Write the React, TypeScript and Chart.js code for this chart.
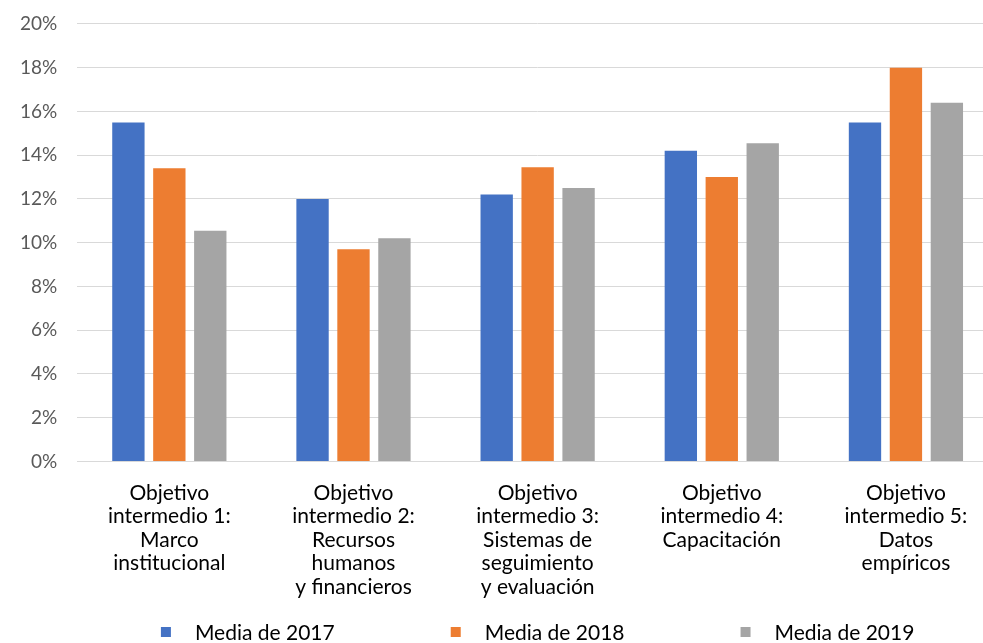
import React, { useEffect, useRef } from "react";
import { Chart, registerables } from "chart.js";

Chart.register(...registerables);

const categories: string[][] = [
  ["Objetivo", "intermedio 1:", "Marco", "institucional"],
  ["Objetivo", "intermedio 2:", "Recursos", "humanos", "y financieros"],
  ["Objetivo", "intermedio 3:", "Sistemas de", "seguimiento", "y evaluación"],
  ["Objetivo", "intermedio 4:", "Capacitación"],
  ["Objetivo", "intermedio 5:", "Datos", "empíricos"],
];

const seriesNames = ["Media de 2017", "Media de 2018", "Media de 2019"];
const media2017 = [15.5, 12.0, 12.2, 14.2, 15.5];
const media2018 = [13.4, 9.7, 13.45, 13.0, 18.0];
const media2019 = [10.55, 10.2, 12.5, 14.55, 16.4];
const colors = ["#4472C4", "#ED7D31", "#A5A5A5"];

const FONT = "Lato, 'Open Sans', sans-serif";

const legendPlugin = {
  id: "customLegend",
  afterDraw(chart: any) {
    const ctx = chart.ctx;
    const area = chart.chartArea;
    ctx.save();
    ctx.font = `21px ${FONT}`;
    const box = 10;
    const gapText = 24;
    const gapItem = 116;
    const items = chart.data.datasets.map((d: any) => ({
      label: d.label,
      color: d.backgroundColor,
      w: box + gapText + ctx.measureText(d.label).width,
    }));
    const total =
      items.reduce((s: number, it: any) => s + it.w, 0) + gapItem * (items.length - 1);
    let x = (area.left + area.right) / 2 - total / 2;
    const y = 632;
    items.forEach((it: any) => {
      ctx.fillStyle = it.color;
      ctx.fillRect(x, y - box / 2, box, box);
      ctx.fillStyle = "#000000";
      ctx.textAlign = "left";
      ctx.textBaseline = "middle";
      ctx.fillText(it.label, x + box + gapText, y + 1);
      x += it.w + gapItem;
    });
    ctx.restore();
  },
};

export default function App() {
  const ref = useRef<HTMLCanvasElement | null>(null);
  useEffect(() => {
    if (!ref.current) return;
    const data = [media2017, media2018, media2019];
    const chart = new Chart(ref.current, {
      type: "bar",
      data: {
        labels: categories,
        datasets: seriesNames.map((name, i) => ({
          label: name,
          data: data[i],
          backgroundColor: colors[i],
          categoryPercentage: 0.667,
          barPercentage: 0.79,
        })),
      },
      options: {
        animation: false,
        responsive: true,
        maintainAspectRatio: false,
        layout: { padding: { top: 0, right: 0, left: 0, bottom: 32 } },
        plugins: {
          legend: { display: false },
          tooltip: { enabled: false },
        },
        scales: {
          x: {
            grid: { display: false },
            border: { display: true, color: "#d9d9d9" },
            ticks: {
              color: "#000000",
              font: { family: FONT, size: 21, lineHeight: 1.12 },
              padding: 12,
              maxRotation: 0,
              autoSkip: false,
            },
          },
          y: {
            min: 0,
            max: 20,
            grid: { color: "#d9d9d9", drawTicks: false, lineWidth: 1 },
            border: { display: false },
            ticks: {
              stepSize: 2,
              color: "#595959",
              font: { family: FONT, size: 19, lineHeight: 0.42 },
              padding: 20,
              callback: (v: any) => `${v}%`,
            },
          },
        },
      },
      plugins: [legendPlugin],
    });
    return () => chart.destroy();
  }, []);
  return (
    <div style={{ position: "fixed", left: 0, top: 0, width: 998, height: 643, background: "#fff" }}>
      <canvas ref={ref} />
    </div>
  );
}
